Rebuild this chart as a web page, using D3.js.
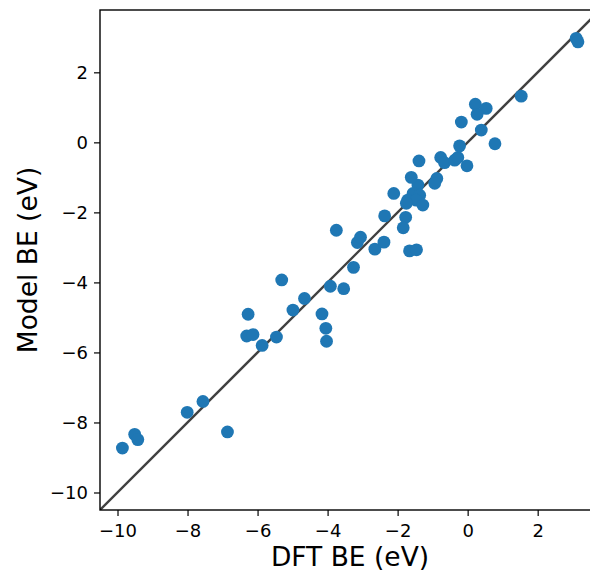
<!DOCTYPE html>
<html>
<head>
<meta charset="utf-8">
<script src="https://cdn.jsdelivr.net/npm/d3@7"></script>
<style>
  body { margin: 0; background: #fff; overflow: hidden; }
  svg { display: block; }
  text { font-family: "DejaVu Sans", sans-serif; fill: #000; }
</style>
</head>
<body>
<div id="chart"></div>
<script>
// DFT binding energy vs model binding energy (eV)
var dftBE = [
  -9.86, -9.51, -9.42, -8.01, -7.56, -6.86, -6.27, -6.31, -6.13, -5.87,
  -5.46, -5.31, -4.99, -4.66, -4.16, -4.05, -4.03, -3.92, -3.54, -3.26,
  -3.75, -3.15, -3.06, -2.65, -2.39, -2.37, -1.77, -1.84, -1.66, -1.46,
  -2.11, -1.42, -1.56, -1.37, -1.71, -1.47, -1.75, -1.28, -1.61, -0.88,
  -0.94, -1.39, -0.77, -0.66, -0.37, -0.28, -0.02, -0.23, -0.18, 0.39,
  0.78, 0.22, 0.53, 0.27, 1.53, 3.10, 3.15
];
var modelBE = [
  -8.73, -8.34, -8.49, -7.71, -7.40, -8.27, -4.91, -5.53, -5.49, -5.80,
  -5.56, -3.93, -4.79, -4.46, -4.90, -5.31, -5.68, -4.11, -4.18, -3.57,
  -2.51, -2.86, -2.71, -3.05, -2.85, -2.10, -2.14, -2.44, -3.10, -3.07,
  -1.46, -1.22, -1.46, -1.51, -1.65, -1.65, -1.74, -1.79, -1.00, -1.03,
  -1.17, -0.53, -0.43, -0.58, -0.51, -0.43, -0.67, -0.10, 0.58, 0.35,
  -0.04, 1.09, 0.97, 0.80, 1.32, 2.97, 2.87
];
var xTicks = [-10, -8, -6, -4, -2, 0, 2];
var yTicks = [-10, -8, -6, -4, -2, 0, 2];
var axisRange = [-10.5, 3.78];

var points = dftBE.map(function(d, i) { return {x: d, y: modelBE[i]}; });

var margin = {top: 10, right: 10, bottom: 62, left: 100},
    width = 500,
    height = 500;

var svg = d3.select("#chart").append("svg")
    .attr("width", 590)
    .attr("height", 572)
    .append("g")
    .attr("transform", "translate(" + margin.left + "," + margin.top + ")");

var x = d3.scaleLinear().domain(axisRange).range([0, width]);
var y = d3.scaleLinear().domain(axisRange).range([height, 0]);

svg.append("clipPath").attr("id", "plotclip")
    .append("rect").attr("width", width).attr("height", height);

var plot = svg.append("g").attr("clip-path", "url(#plotclip)");

// parity line
plot.append("line")
    .attr("x1", x(axisRange[0])).attr("y1", y(axisRange[0]))
    .attr("x2", x(axisRange[1])).attr("y2", y(axisRange[1]))
    .attr("stroke", "#404040")
    .attr("stroke-width", 2.3);

plot.selectAll(".dot")
    .data(points)
    .enter().append("circle")
    .attr("class", "dot")
    .attr("cx", function(d) { return x(d.x); })
    .attr("cy", function(d) { return y(d.y); })
    .attr("r", 6.4)
    .attr("fill", "#1f77b4");

// axes
var xAxis = svg.append("g")
    .attr("transform", "translate(0," + height + ")")
    .call(d3.axisBottom(x).tickValues(xTicks).tickSize(6).tickPadding(8));

var yAxis = svg.append("g")
    .call(d3.axisLeft(y).tickValues(yTicks).tickSize(6).tickPadding(6));

[xAxis, yAxis].forEach(function(g) {
    g.attr("font-size", 18).attr("font-family", "DejaVu Sans");
    g.select(".domain").remove();
    g.selectAll(".tick line").attr("stroke", "#000").attr("stroke-width", 1.2);
});

// frame
svg.append("rect")
    .attr("width", width).attr("height", height)
    .attr("fill", "none")
    .attr("stroke", "#000")
    .attr("stroke-width", 1.4);

svg.append("text")
    .attr("x", width / 2)
    .attr("y", height + 56)
    .attr("text-anchor", "middle")
    .attr("font-size", 26.5)
    .text("DFT BE (eV)");

svg.append("text")
    .attr("transform", "rotate(-90)")
    .attr("x", -height / 2)
    .attr("y", -63)
    .attr("text-anchor", "middle")
    .attr("font-size", 26.5)
    .text("Model BE (eV)");
</script>
</body>
</html>
